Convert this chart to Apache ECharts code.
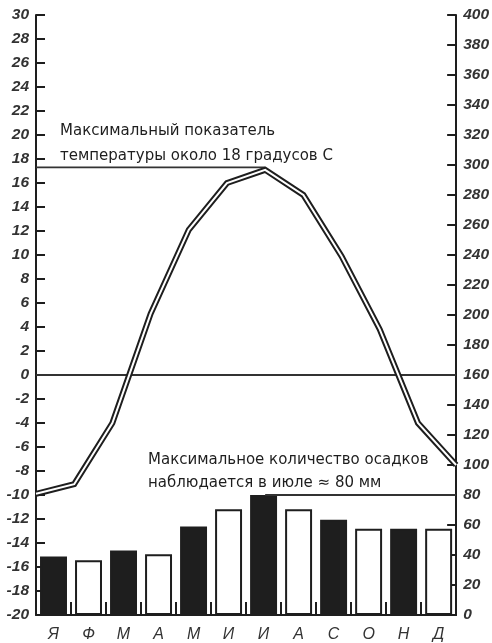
<!DOCTYPE html>
<html>
<head>
<meta charset="utf-8">
<script src="https://cdn.jsdelivr.net/npm/echarts@6/dist/echarts.min.js"></script>
<style>
html,body{margin:0;padding:0;background:#fff;}
#c{width:492px;height:643px;}
</style>
</head>
<body>
<div id="c"></div>
<script>
var months = ['Я','Ф','М','А','М','И','И','А','С','О','Н','Д'];
var temperature = [-9.9, -9.1, -4.0, 5.1, 12.1, 16.0, 17.1, 15.0, 9.9, 3.8, -4.0, -7.5];
var precipitation = [39, 36.5, 43, 40.5, 59, 70.5, 80, 70.5, 63.5, 57.5, 57.5, 57.5];
var barFilled = [true, false, true, false, true, false, true, false, true, false, true, false];
var maxTempLine = 17.3;
var maxPrecip = 80;
var maxMonthIndex = 6;
var note1 = ['Максимальный показатель', 'температуры около 18 градусов С'];
var note2 = ['Максимальное количество осадков', 'наблюдается в июле ≈ 80 мм'];

var INK = '#1e1e1e';
var axisFont = "'Liberation Sans', Arial, sans-serif";
var textFont = "'DejaVu Sans', sans-serif";

var chart = echarts.init(document.getElementById('c'));

var zeroLine = months.map(function(){ return 0; });
var tempRef = months.map(function(m, i){ return i <= maxMonthIndex ? maxTempLine : null; });
var precRef = months.map(function(m, i){ return i >= maxMonthIndex ? maxPrecip : null; });

var axisLabelStyle = { color: '#333', fontFamily: axisFont, fontStyle: 'italic', fontSize: 15.5, fontWeight: 'bold' };

var option = {
  animation: false,
  backgroundColor: '#fff',
  grid: { left: 36, right: 33, top: 15, bottom: 26, containLabel: false },
  xAxis: [
    {
      type: 'category', data: months, boundaryGap: true, position: 'bottom',
      axisLine: { onZero: false, lineStyle: { color: INK, width: 2 } },
      axisTick: { show: true, inside: true, length: 13, interval: 0, lineStyle: { color: INK, width: 2 } },
      axisLabel: Object.assign({}, axisLabelStyle, { interval: 0, margin: 12, fontWeight: 'normal', fontSize: 16 }),
      splitLine: { show: false }
    },
    {
      type: 'category', data: months, boundaryGap: false, show: false
    }
  ],
  yAxis: [
    {
      type: 'value', min: -20, max: 30, interval: 2, position: 'left',
      axisLine: { show: true, onZero: false, lineStyle: { color: INK, width: 2 } },
      axisTick: { show: true, inside: true, length: 9, lineStyle: { color: INK, width: 2 } },
      axisLabel: Object.assign({ margin: 7 }, axisLabelStyle),
      splitLine: { show: false }
    },
    {
      type: 'value', min: 0, max: 400, interval: 20, position: 'right',
      axisLine: { show: true, onZero: false, lineStyle: { color: INK, width: 2 } },
      axisTick: { show: true, inside: true, length: 9, lineStyle: { color: INK, width: 2 } },
      axisLabel: Object.assign({ margin: 7 }, axisLabelStyle),
      splitLine: { show: false }
    }
  ],
  series: [
    {
      type: 'bar', xAxisIndex: 0, yAxisIndex: 1, barWidth: '77%', z: 2,
      data: precipitation.map(function(v, i){
        return { value: v, itemStyle: { color: barFilled[i] ? INK : '#fff', borderColor: INK, borderWidth: 2 } };
      })
    },
    {
      type: 'line', xAxisIndex: 1, yAxisIndex: 0, data: zeroLine, symbol: 'none', silent: true, z: 3,
      lineStyle: { color: '#333', width: 1.8 }
    },
    {
      type: 'line', xAxisIndex: 1, yAxisIndex: 0, data: tempRef, symbol: 'none', silent: true, z: 3,
      lineStyle: { color: '#333', width: 1.8 }
    },
    {
      type: 'line', xAxisIndex: 1, yAxisIndex: 1, data: precRef, symbol: 'none', silent: true, z: 3,
      lineStyle: { color: '#333', width: 1.8 }
    },
    {
      type: 'line', xAxisIndex: 1, yAxisIndex: 0, data: temperature, symbol: 'none', z: 4,
      lineStyle: { color: INK, width: 6, join: 'miter' }
    },
    {
      type: 'line', xAxisIndex: 1, yAxisIndex: 0, data: temperature, symbol: 'none', z: 5,
      lineStyle: { color: '#fff', width: 2, join: 'miter' }
    }
  ],
  graphic: [
    { type: 'text', left: 60, top: 124, style: { text: note1[0], fill: '#1e1e1e', font: '15px ' + textFont } },
    { type: 'text', left: 60, top: 149, style: { text: note1[1], fill: '#1e1e1e', font: '15px ' + textFont } },
    { type: 'text', left: 148, top: 453, style: { text: note2[0], fill: '#1e1e1e', font: '15px ' + textFont } },
    { type: 'text', left: 148, top: 476, style: { text: note2[1], fill: '#1e1e1e', font: '15px ' + textFont } }
  ]
};
chart.setOption(option);
</script>
</body>
</html>
